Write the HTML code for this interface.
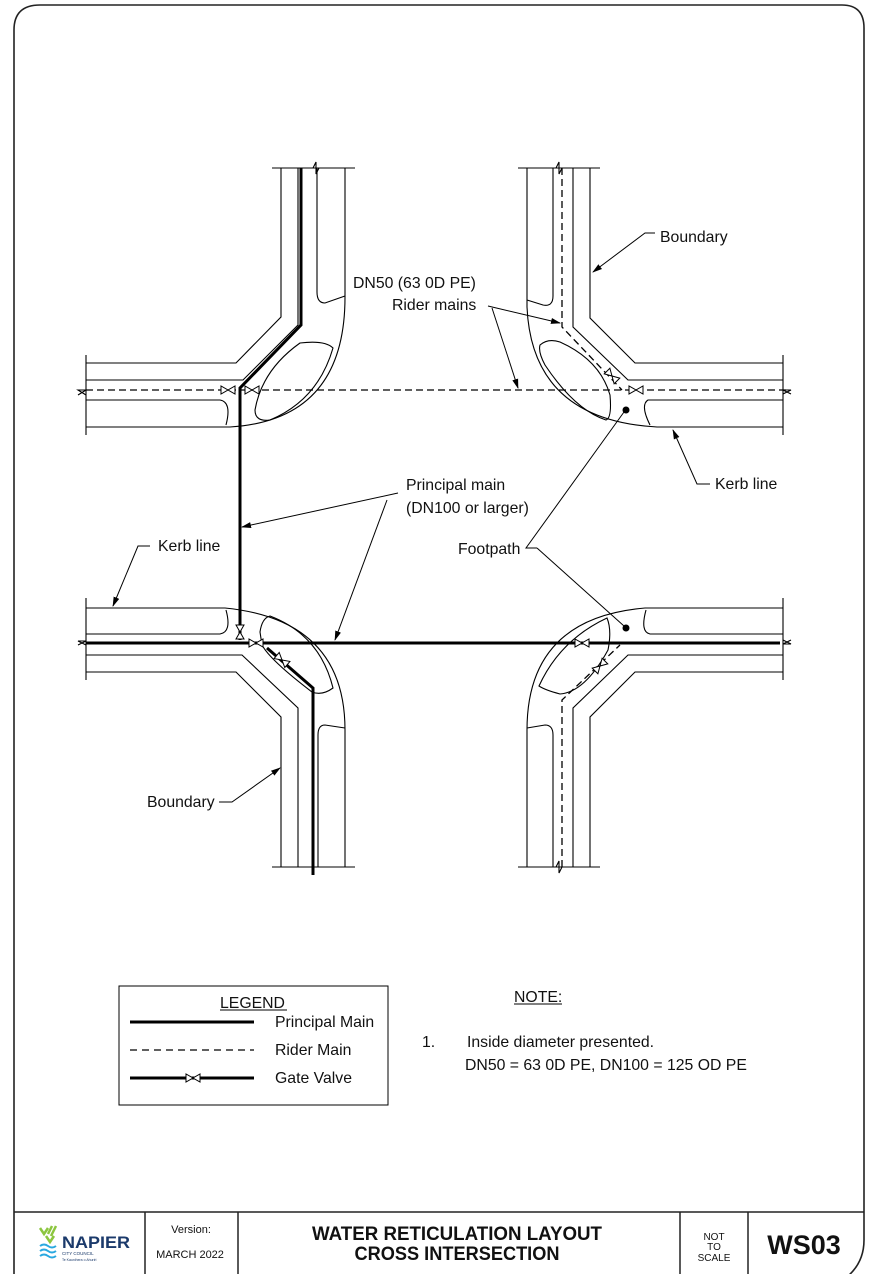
<!DOCTYPE html>
<html><head><meta charset="utf-8"><style>
html,body{margin:0;padding:0;background:#fff}
svg{display:block}
text{font-family:"Liberation Sans",Arial,sans-serif;fill:#111}
</style></head><body>
<svg width="879" height="1274" viewBox="0 0 879 1274" xmlns="http://www.w3.org/2000/svg">
<defs>
<g id="v"><polygon points="-7,-4 -7,4 0,0" fill="#fff" stroke="#000" stroke-width="1"/><polygon points="7,-4 7,4 0,0" fill="#fff" stroke="#000" stroke-width="1"/></g>
<marker id="ar" markerWidth="10" markerHeight="8" refX="9" refY="4" orient="auto" markerUnits="userSpaceOnUse"><path d="M0,1 L10,4 L0,7 z" fill="#000"/></marker>
</defs>
<rect width="879" height="1274" fill="#fff"/>
<!-- frame -->
<path d="M14,1290 V30 Q14,5 40,5 H842 Q864,5 864,28 V1240 Q864,1262 848,1276" fill="none" stroke="#222" stroke-width="1.6"/>
<line x1="14" y1="1212" x2="864" y2="1212" stroke="#222" stroke-width="1.5"/>
<g stroke="#222" stroke-width="1.5"><line x1="145" y1="1212" x2="145" y2="1274"/><line x1="238" y1="1212" x2="238" y2="1274"/><line x1="680" y1="1212" x2="680" y2="1274"/><line x1="748" y1="1212" x2="748" y2="1274"/></g>

<g fill="none" stroke="#000" stroke-width="1.1">
<!-- TOP LEFT -->
<path d="M272,168 H355"/>
<path d="M281,168 V317 L236,363 H86"/>
<path d="M298,168 V325 L243,380 H86"/>
<path d="M317,168 V292 Q317,303 325,303 L345,296"/>
<path d="M345,168 V297 Q345,420 230,427 H86"/>
<path d="M86,400 H220 Q232,402 226,425"/>
<path d="M86,355 V435"/>
<path d="M255,410 Q262,370 300,343 Q325,340 333,348 Q318,400 270,420 Q255,422 255,410 Z"/>
<path d="M313,168 l3,-6 l0,12 l3,-6"/>
<path d="M78,395 l8,-5 l-8,0 l8,5" />
<!-- TOP RIGHT -->
<path d="M518,168 H600"/>
<path d="M590,168 V318 L635,363 H783"/>
<path d="M573,168 V327 L628,380 H783"/>
<path d="M553,168 V296 Q553,307 543,305 L527,300"/>
<path d="M527,168 V307 Q532,420 657,427 H783"/>
<path d="M783,400 H648 Q640,405 650,425"/>
<path d="M783,355 V435"/>
<path d="M540,345 Q548,338 560,342 Q600,360 610,395 Q612,418 606,420 Q575,410 545,365 Q538,352 540,345 Z"/>
<path d="M556,168 l3,-6 l0,12 l3,-6"/>
<path d="M783,394 l8,-4 l-8,0 l8,4"/>
<!-- BOTTOM LEFT -->
<path d="M272,867 H355"/>
<path d="M281,867 V717 L236,672 H86"/>
<path d="M298,867 V708 L242,655 H86"/>
<path d="M86,608 H225 Q345,620 345,730 V867"/>
<path d="M86,634 H220 Q232,632 226,610"/>
<path d="M318,867 V735 Q318,725 325,725 L345,728"/>
<path d="M86,598 V680"/>
<path d="M260,632 Q262,618 270,616 Q320,635 333,688 Q322,696 312,692 Q270,660 262,645 Z"/>
<path d="M78,645 l8,-4 l-8,0 l8,4"/>
<!-- BOTTOM RIGHT -->
<path d="M518,867 H600"/>
<path d="M590,867 V717 L635,672 H783"/>
<path d="M573,867 V708 L628,655 H783"/>
<path d="M783,608 H645 Q527,618 527,730 V867"/>
<path d="M783,634 H650 Q640,632 646,610"/>
<path d="M553,867 V735 Q553,725 545,725 L527,728"/>
<path d="M783,598 V680"/>
<path d="M607,618 Q612,630 608,650 Q585,692 560,694 Q545,690 539,686 Q560,640 607,618 Z"/>
<path d="M783,640 l8,4 l-8,0 l8,-4"/>
<path d="M556,867 l3,-6 l0,12 l3,-6"/>
</g>

<!-- rider mains (dashed) -->
<g fill="none" stroke="#000" stroke-width="1.3" stroke-dasharray="7,4">
<path d="M86,390 H790"/>
<path d="M562,168 V327 L622,390"/>
<path d="M562,867 V700 L620,645"/>
</g>
<!-- principal main -->
<g fill="none" stroke="#000" stroke-width="3">
<path d="M301,168 V325 L240,388 V640"/>
<path d="M86,643 H780"/>
<path d="M267,648 L313,688 V875"/>
</g>
<!-- valves -->
<use href="#v" x="228" y="390"/><use href="#v" x="252" y="390"/>
<use href="#v" transform="translate(612,376) rotate(45)"/><use href="#v" x="636" y="390"/>
<use href="#v" transform="translate(240,632) rotate(90)"/><use href="#v" x="256" y="643"/>
<use href="#v" transform="translate(282,660) rotate(40)"/>
<use href="#v" x="582" y="643"/><use href="#v" transform="translate(600,666) rotate(-45)"/>
<circle cx="626" cy="410" r="3.5" fill="#000"/><circle cx="626" cy="628" r="3.5" fill="#000"/>

<!-- leaders -->
<g fill="none" stroke="#000" stroke-width="1" marker-end="url(#ar)">
<path d="M488,306 L560,323"/>
<path d="M492,308 L518,388"/>
<path d="M655,233 H645 L593,272"/>
<path d="M710,484 H697 L673,430"/>
<path d="M398,493 L242,527"/>
<path d="M387,500 L335,640"/>
<path d="M150,546 H138 L113,606"/>
<path d="M219,802 H232 L280,768"/>
</g>
<g fill="none" stroke="#000" stroke-width="1">
<path d="M537,548 H526 L624,412"/>
<path d="M537,548 L624,626"/>
</g>

<g font-size="15.8">
<text x="353" y="288">DN50 (63 0D PE)</text>
<text x="392" y="310">Rider mains</text>
<text x="660" y="242">Boundary</text>
<text x="715" y="489">Kerb line</text>
<text x="406" y="490">Principal main</text>
<text x="406" y="513">(DN100 or larger)</text>
<text x="458" y="554">Footpath</text>
<text x="158" y="551">Kerb line</text>
<text x="147" y="807">Boundary</text>
</g>

<!-- legend -->
<rect x="119" y="986" width="269" height="119" fill="none" stroke="#000" stroke-width="1"/>
<text x="220" y="1008" font-size="15.8">LEGEND</text>
<line x1="220" y1="1010" x2="287" y2="1010" stroke="#000" stroke-width="1"/>
<line x1="130" y1="1022" x2="254" y2="1022" stroke="#000" stroke-width="3"/>
<line x1="130" y1="1050" x2="254" y2="1050" stroke="#000" stroke-width="1.2" stroke-dasharray="7,5"/>
<line x1="130" y1="1078" x2="254" y2="1078" stroke="#000" stroke-width="3"/>
<use href="#v" x="193" y="1078"/>
<g font-size="15.8"><text x="275" y="1027">Principal Main</text><text x="275" y="1055">Rider Main</text><text x="275" y="1083">Gate Valve</text></g>
<text x="514" y="1002" font-size="15.8">NOTE:</text>
<line x1="514" y1="1004" x2="562" y2="1004" stroke="#000" stroke-width="1"/>
<g font-size="15.8"><text x="422" y="1047">1.</text><text x="467" y="1047">Inside diameter presented.</text><text x="465" y="1070">DN50 = 63 0D PE, DN100 = 125 OD PE</text></g>

<!-- title block -->
<g>
<path d="M40,1228 l4,6 l4,-6 M52,1226 l-4,8 M56,1226 l-5,10 M46,1236 l4,6 l4,-6" stroke="#8cc63f" stroke-width="2.5" fill="none"/>
<path d="M40,1246 q4,-3 8,0 t8,0 M40,1251 q4,-3 8,0 t8,0 M40,1256 q4,-3 8,0 t8,0" stroke="#29a8e0" stroke-width="2" fill="none"/>
<text x="62" y="1248" font-size="17" font-weight="bold" style="fill:#1b3a6b" textLength="68" lengthAdjust="spacingAndGlyphs">NAPIER</text>
<text x="62" y="1255" font-size="4.5" style="fill:#1b3a6b">CITY COUNCIL</text>
<text x="62" y="1261" font-size="3.5" style="fill:#1b3a6b">Te Kaunihera o Ahuriri</text>
</g>
<text x="191" y="1233" font-size="11" text-anchor="middle">Version:</text>
<text x="190" y="1258" font-size="11" text-anchor="middle">MARCH 2022</text>
<text x="457" y="1240" font-size="19" font-weight="bold" text-anchor="middle" textLength="290" lengthAdjust="spacingAndGlyphs">WATER RETICULATION LAYOUT</text>
<text x="457" y="1260" font-size="19" font-weight="bold" text-anchor="middle" textLength="205" lengthAdjust="spacingAndGlyphs">CROSS INTERSECTION</text>
<g font-size="10" text-anchor="middle"><text x="714" y="1240">NOT</text><text x="714" y="1250">TO</text><text x="714" y="1261">SCALE</text></g>
<text x="804" y="1254" font-size="27" font-weight="bold" text-anchor="middle">WS03</text>
</svg>
</body></html>
